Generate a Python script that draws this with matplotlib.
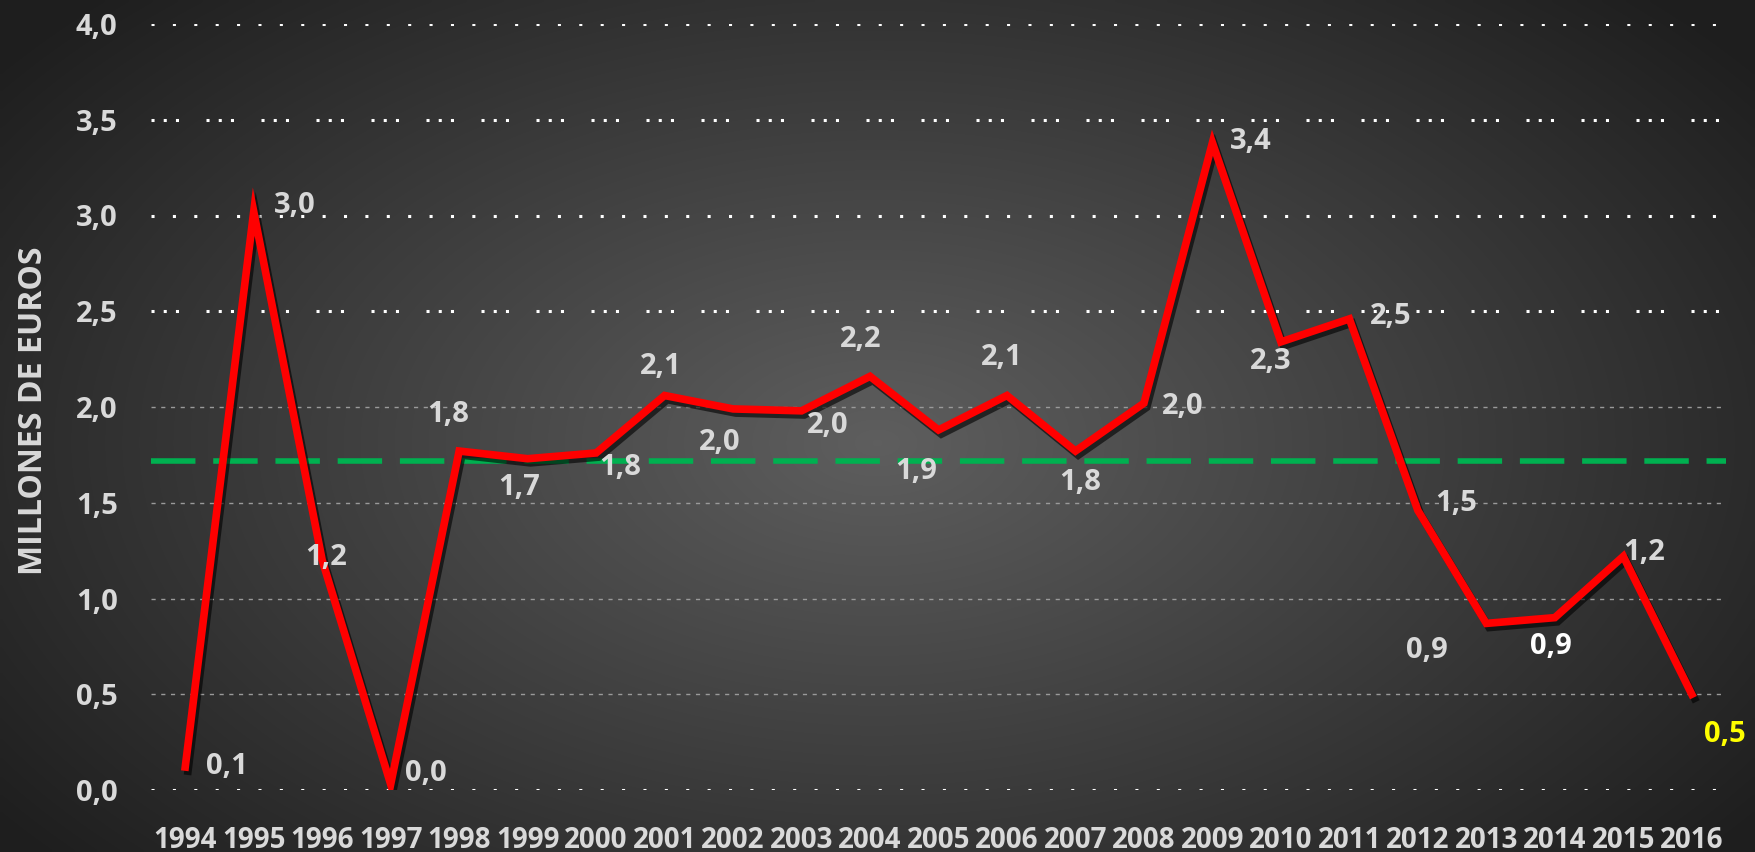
import matplotlib
matplotlib.use('Agg')
import numpy as np
import matplotlib.pyplot as plt
import matplotlib.patheffects as pe

# data (millions of euros)
years = [str(y) for y in range(1994, 2017)]
values = [0.12, 3.02, 1.20, 0.03, 1.77, 1.73, 1.76, 2.06, 1.99, 1.98, 2.16, 1.88,
          2.06, 1.77, 2.02, 3.38, 2.34, 2.46, 1.46, 0.87, 0.90, 1.22, 0.50]
average = 1.72
yticks = [0.0, 0.5, 1.0, 1.5, 2.0, 2.5, 3.0, 3.5, 4.0]

# label offsets in pixels (dx, dy) relative to each point
label_offsets = [(42, 1), (41, 6), (4, 3), (35, 11), (-11, 37), (-9, -29), (24, -15),
                 (-4, 29), (-13, -34), (26, -15), (-9, 37), (-22, -42), (-5, 38),
                 (5, -31), (39, -3), (38, 1), (-10, -20), (41, 2), (38, 7),
                 (-59, -27), (-4, -29), (21, 4), (33, -40)]
label_colors = ['#d9d9d9'] * len(values)
label_colors[20] = '#ffffff'
label_colors[22] = '#ffff00'

plt.rcParams['font.family'] = ['Open Sans', 'DejaVu Sans']
plt.rcParams['font.weight'] = 'bold'

fig = plt.figure(figsize=(17.55, 8.52), dpi=100)

# radial gray background
bg = fig.add_axes([0, 0, 1, 1], zorder=-10)
gx, gy = np.meshgrid(np.linspace(0, 1, 400), np.linspace(0, 1, 200))
r = np.sqrt(((gx - 0.5) / 0.62) ** 2 + ((gy - 0.52) / 0.75) ** 2)
shade = np.clip(0.37 - 0.25 * r, 0.12, 0.37)
bg.imshow(np.dstack([shade, shade, shade]), aspect='auto', extent=[0, 1, 0, 1],
          interpolation='bilinear')
bg.axis('off')

ax = fig.add_axes([151 / 1755, 62 / 852, 1575 / 1755, 766 / 852])
ax.patch.set_alpha(0)
x = np.arange(len(years))

# gridlines, each drawn in its own dotted pattern like the original
grid_styles = {0.0: (0, (1, 6)), 0.5: (0, (3, 4)), 1.0: (0, (3, 4)), 1.5: (0, (3, 4)),
               2.0: (0, (3, 4)), 2.5: (0, (1, 3, 1, 3, 1, 9)), 3.0: (0, (1, 6)),
               3.5: (0, (1, 3, 1, 3, 1, 9)), 4.0: (0, (1, 6))}
for yv in yticks:
    dotted = grid_styles[yv][1][0] == 1
    ax.axhline(yv, color='white' if dotted else '#9a9a9a',
               lw=2.2 if dotted else 1.0, ls=grid_styles[yv], zorder=1)

ax.axhline(average, color='#00b050', lw=4, ls=(0, (8, 3.2)), zorder=2)

ax.plot(x, values, color='#ff0000', lw=5.5, zorder=3, solid_joinstyle='miter',
        path_effects=[pe.SimpleLineShadow(offset=(2, -3), shadow_color='black', alpha=0.6),
                      pe.Normal()])

for i, v in enumerate(values):
    ax.annotate(f'{v:.1f}'.replace('.', ','), (x[i], v), xytext=label_offsets[i],
                textcoords='offset pixels', ha='center', va='center',
                color=label_colors[i], fontsize=21, fontweight='bold', zorder=4)

ax.set_xlim(-0.5, len(years) - 0.5)
ax.set_ylim(0, 4)
ax.set_xticks(x)
ax.set_xticklabels(years)
ax.set_yticks(yticks)
ax.set_yticklabels([f'{t:.1f}'.replace('.', ',') for t in yticks])
ax.tick_params(axis='both', length=0, colors='#d9d9d9')
ax.tick_params(axis='x', pad=26, labelsize=20)
ax.tick_params(axis='y', pad=24, labelsize=21)
for lab in ax.get_xticklabels() + ax.get_yticklabels():
    lab.set_fontweight('bold')
for s in ax.spines.values():
    s.set_visible(False)

fig.text(34 / 1755, 1 - 411 / 852, 'MILLONES DE EUROS', rotation=90, ha='center',
         va='center', color='#d9d9d9', fontsize=23, fontweight='bold')

fig.savefig('out.png', dpi=100)
